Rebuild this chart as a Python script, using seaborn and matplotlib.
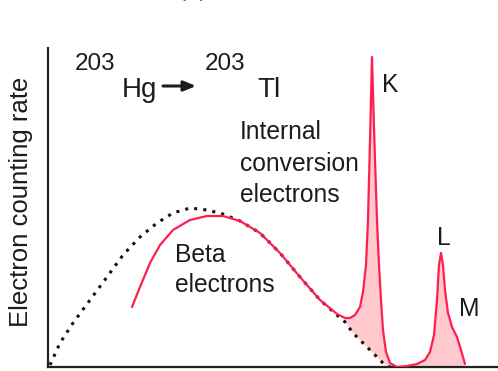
import numpy as np
import pandas as pd
import matplotlib
matplotlib.use("Agg")
import matplotlib.pyplot as plt
import seaborn as sns

# Continuous beta spectrum (dotted envelope), arbitrary energy / rate units
beta_energy = [2, 12, 25, 42, 59, 75, 92, 109, 125, 142, 159, 175, 192,
               212, 232, 252, 272, 289, 297, 305, 322, 335, 342]
beta_rate = [2, 24, 44, 67, 90, 112, 130, 144, 154, 159, 157, 153, 146,
             134, 114, 90, 67, 52, 45, 34, 17, 4, 0]

# Measured spectrum: beta continuum plus K, L, M conversion lines
meas_energy = [84, 92, 102, 112, 125, 142, 159, 175, 192, 212, 232, 252,
               272, 289, 297, 302, 307, 312, 315, 318, 320, 321, 322.5,
               324, 325.5, 327, 329, 331, 333, 335, 338, 342, 349, 359,
               369, 377, 382, 386, 389, 391, 393, 395, 397, 400, 404,
               409, 413, 417]
meas_rate = [60, 80, 104, 122, 137, 147, 151, 151, 146, 134, 114, 90,
             67, 53, 49, 49, 52, 60, 75, 102, 147, 187, 247,
             310, 257, 207, 147, 102, 67, 37, 15, 4, 0, 1,
             3, 7, 15, 32, 67, 102, 114, 102, 77, 54, 40,
             30, 17, 3]

# Conversion-electron region starts where the measured curve leaves the continuum
line_start = 297

beta = pd.DataFrame({"energy": beta_energy, "rate": beta_rate})
meas = pd.DataFrame({"energy": meas_energy, "rate": meas_rate})

sns.set_theme(style="white")
plt.rcParams["font.family"] = ["Liberation Sans", "DejaVu Sans"]

fig = plt.figure(figsize=(4.98, 3.71), dpi=100)
ax = fig.add_axes([48 / 498, 4 / 371, 450 / 498, 319 / 371])

red = "#ff1f4f"
pink = "#ffc9cd"
ink = "#1c1c1c"

# Shaded area of the conversion lines above the beta continuum
seg = meas[meas["energy"] >= line_start]
env = beta[beta["energy"] >= line_start]
poly_x = np.concatenate([seg["energy"].values, [seg["energy"].values[-1]],
                         env["energy"].values[::-1]])
poly_y = np.concatenate([seg["rate"].values, [0], env["rate"].values[::-1]])
ax.fill(poly_x, poly_y, color=pink, lw=0, zorder=1)

sns.lineplot(data=beta, x="energy", y="rate", sort=False, ax=ax,
             color="#111111", lw=2.2, linestyle=(0, (1, 2.0)),
             zorder=2)
sns.lineplot(data=meas, x="energy", y="rate", sort=False, ax=ax,
             color=red, lw=1.6, zorder=3,
             solid_joinstyle="round", solid_capstyle="round")

ax.set_xlim(0, 450)
ax.set_ylim(0, 319)
ax.set_xlabel("")
ax.set_ylabel("")
ax.set_xticks([])
ax.set_yticks([])
for side in ("top", "right"):
    ax.spines[side].set_visible(False)
for side in ("left", "bottom"):
    ax.spines[side].set_color("#222222")
    ax.spines[side].set_linewidth(1.6)

fs = 17.7
# Decay equation
ax.text(27, 297, "203", fontsize=17.5, color=ink, ha="left", va="baseline",
        clip_on=False)
ax.text(74, 270, "Hg", fontsize=20, color=ink, ha="left", va="baseline",
        clip_on=False)
ax.annotate("", xy=(148, 281), xytext=(115, 281),
            arrowprops=dict(arrowstyle="-|>,head_length=0.6,head_width=0.25",
                            color=ink, lw=2.2, shrinkA=0, shrinkB=0))
ax.text(157, 297, "203", fontsize=17.5, color=ink, ha="left", va="baseline",
        clip_on=False)
ax.text(209, 270, "Tl", fontsize=20, color=ink, ha="left", va="baseline",
        clip_on=False)

# Region labels
ax.text(192, 228, "Internal", fontsize=fs, color=ink, va="baseline")
ax.text(192, 196, "conversion", fontsize=fs, color=ink, va="baseline")
ax.text(192, 165, "electrons", fontsize=fs, color=ink, va="baseline")
ax.text(127, 105, "Beta", fontsize=fs, color=ink, va="baseline")
ax.text(127, 75, "electrons", fontsize=fs, color=ink, va="baseline")

# Line labels
ax.text(334, 275, "K", fontsize=fs, color=ink, va="baseline")
ax.text(389, 122, "L", fontsize=fs, color=ink, va="baseline")
ax.text(411, 51, "M", fontsize=fs, color=ink, va="baseline")

fig.text(21 / 498, 1 - 202 / 371, "Electron counting rate", rotation=90,
         fontsize=18.5, color=ink, ha="center", va="center")
fig.text(193 / 498, 1 + 4 / 371, "(b)", fontsize=18, color="#5555ff",
         ha="center", va="baseline")

fig.savefig("out.png", dpi=100, facecolor="white")
